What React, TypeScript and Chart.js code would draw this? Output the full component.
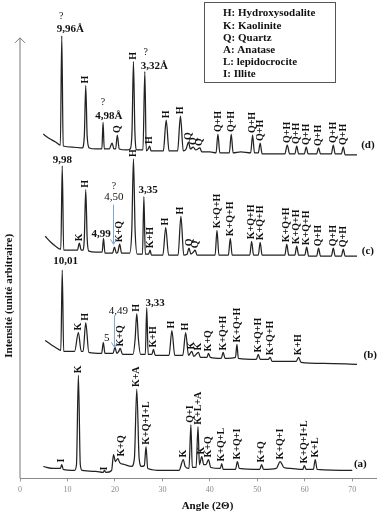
import React, { useEffect, useRef } from "react";
import { Chart, registerables } from "chart.js";

Chart.register(...registerables);

// ---- Data (angle 2θ in degrees, intensity in arbitrary units, traces stacked) ----
const angleTicks = [0, 10, 20, 30, 40, 50, 60, 70];

const traceD: [number, number][] = [
  [4.9, 347], [6, 343], [7.5, 339], [8.5, 336], [8.8, 446], [9.1, 335], [11, 334], [13.1, 333], [13.55, 345], [13.85, 396], [14.15, 345], [14.6, 333],
  [16, 332], [17.25, 332], [17.5, 359], [17.75, 332], [18.8, 332], [19.4, 338], [19.8, 332], [20.15, 332], [20.5, 346], [20.9, 332],
  [22.5, 331], [23.2, 332], [23.6, 350], [23.9, 420], [24.2, 350], [24.6, 331], [25.9, 331], [26.3, 410], [26.6, 330], [27.0, 332], [27.3, 335], [27.6, 330],
  [30.2, 330], [30.8, 361], [31.4, 330], [33.2, 330], [33.8, 365], [34.4, 330], [35.0, 332], [35.5, 339], [35.9, 332], [36.5, 334],
  [37.0, 331], [37.9, 333], [38.3, 329], [40, 329], [41.3, 328], [41.7, 347], [42.1, 328], [44.1, 328], [44.5, 347], [44.9, 328],
  [46.5, 329], [48.6, 328], [49.0, 346], [49.4, 328], [50.2, 328], [50.6, 338], [51.0, 327], [53, 327], [55.8, 327], [56.3, 336],
  [56.8, 327], [57.9, 327], [58.3, 335], [58.7, 327], [59.9, 327], [60.3, 334], [60.7, 327], [62.5, 327], [62.9, 333], [63.3, 327],
  [65.6, 327], [66.0, 336], [66.4, 327], [67.7, 327], [68.1, 334], [68.5, 326], [71, 326],
];

const traceC: [number, number][] = [
  [5.3, 244], [6.5, 238], [7.5, 234], [8.6, 231], [8.9, 315], [9.2, 230], [11, 230], [12.1, 230], [12.5, 237], [12.9, 230],
  [13.2, 230], [13.55, 242], [13.85, 291], [14.15, 242], [14.5, 229], [16, 228], [17.3, 228], [17.6, 242], [17.9, 227], [19.5, 227], [19.9, 233], [20.3, 227],
  [20.6, 228], [21.0, 236], [21.4, 227], [23.1, 227], [23.55, 250], [23.9, 322], [24.25, 250], [24.7, 226], [25.8, 226], [26.1, 284], [26.4, 226], [27.1, 226],
  [27.4, 230], [27.7, 225], [30.1, 225], [30.7, 253], [31.3, 225], [33.3, 225], [33.9, 264], [34.5, 225], [35.2, 226], [35.6, 232],
  [36.0, 226], [36.5, 228], [36.9, 230], [37.3, 225], [41.1, 225], [41.5, 250], [41.9, 225], [43.9, 225], [44.3, 242], [44.7, 225],
  [48.4, 225], [48.8, 239], [49.2, 225], [50.2, 225], [50.6, 238], [51, 225], [55.8, 225], [56.2, 236], [56.6, 225], [57.9, 225],
  [58.3, 234], [58.7, 225], [60, 225], [60.4, 233], [60.8, 224], [62.5, 224], [62.9, 232], [63.3, 224], [65.6, 224], [66.0, 232],
  [66.4, 224], [67.7, 224], [68.1, 231], [68.5, 224], [71, 224],
];

const traceB: [number, number][] = [
  [5.3, 139], [6.5, 135], [7.5, 132], [8.6, 129], [8.9, 210], [9.2, 128], [11.5, 128], [12.3, 147], [12.9, 128], [13.3, 128],
  [13.85, 157], [14.5, 127], [17.2, 126], [17.55, 137], [17.9, 126], [19.6, 126], [20.0, 132], [20.4, 126], [20.8, 128], [21.1, 131],
  [21.6, 125], [23.8, 125], [24.25, 140], [24.6, 166], [24.95, 140], [25.4, 125], [26.4, 125], [26.7, 172], [27.0, 125], [27.8, 125], [28.1, 130], [28.5, 124],
  [31.4, 124], [32.0, 149], [32.6, 124], [34.3, 124], [34.9, 147], [35.5, 124], [36.2, 128], [36.6, 123], [37.6, 127], [38.0, 122],
  [39.4, 122], [39.7, 126], [40.1, 122], [42.4, 121], [42.8, 127], [43.2, 121], [45.4, 122], [45.7, 135], [46.0, 121], [49.8, 120],
  [50.2, 125], [50.6, 120], [52.3, 120], [52.7, 122], [53.1, 118], [58.2, 118], [58.7, 122], [59.2, 117], [64, 116], [71, 115],
];

const traceA: [number, number][] = [
  [4.9, 12], [7, 10], [8.5, 10], [8.8, 14], [9.1, 9], [11.5, 8], [11.9, 14], [12.3, 104], [12.7, 14], [13.1, 8],
  [16, 7], [17.5, 6], [17.8, 8], [18.1, 6], [19.3, 8], [19.7, 24], [20.1, 17], [20.6, 20], [21, 16], [22, 14],
  [23.5, 12], [24.1, 20], [24.6, 90], [25.1, 20], [25.6, 12], [26.2, 13], [26.55, 32], [26.9, 10], [30, 8], [33.5, 8],
  [34.4, 19], [34.8, 12], [35.6, 10], [36.0, 54], [36.3, 11], [37.1, 11], [37.5, 52], [37.8, 14], [38.3, 22], [38.7, 14],
  [39.2, 14], [39.7, 19], [40.2, 11], [42.2, 10], [42.5, 15], [42.8, 9], [45.4, 9], [45.8, 17], [46.2, 10], [50.5, 9],
  [50.9, 14], [51.3, 9], [54, 10], [54.8, 17], [55.6, 11], [57, 10], [59.6, 9], [59.9, 13], [60.3, 9], [61.8, 9],
  [62.2, 19], [62.6, 9], [70, 8],
];

// Phase labels (rotated): [text, angle, intensity at label start]
const phaseLabels: [string, number, number][] = [
  // (d)
  ["H", 13.85, 398], ["Q", 20.5, 348], ["H", 23.9, 422], ["H", 27.3, 337], ["H", 30.8, 363], ["H", 33.8, 367],
  ["Q", 35.5, 341], ["Q", 36.5, 336], ["Q", 37.9, 335],
  ["Q+H", 41.7, 349], ["Q+H", 44.5, 349], ["Q+H", 49.0, 348], ["Q+H", 50.6, 340], ["Q+H", 56.3, 338],
  ["Q+H", 58.3, 337], ["Q+H", 60.3, 336], ["Q+H", 62.9, 335], ["Q+H", 66.0, 338], ["Q+H", 68.1, 336],
  // (c)
  ["K", 12.5, 239], ["H", 13.85, 293], ["K+Q", 21.0, 238], ["H", 23.9, 324], ["K+H", 27.4, 232], ["H", 30.7, 255],
  ["H", 33.9, 266], ["Q", 35.6, 234], ["Q", 36.9, 232],
  ["K+Q+H", 41.5, 252], ["K+Q+H", 44.3, 244], ["K+Q+H", 48.8, 241], ["K+Q+H", 50.6, 240], ["K+Q+H", 56.2, 238],
  ["K+Q+H", 58.3, 236], ["K+Q+H", 60.4, 235], ["Q+H", 62.9, 234], ["Q+H", 66.0, 234], ["Q+H", 68.1, 233],
  // (b)
  ["K", 12.3, 149], ["H", 13.85, 159], ["K+Q", 21.1, 133], ["H", 24.6, 168], ["K+H", 28.1, 132], ["H", 32.0, 151],
  ["H", 34.9, 149], ["K", 36.2, 130], ["K", 37.6, 129], ["K+Q", 39.7, 128],
  ["K+Q+H", 42.8, 129], ["K+Q+H", 45.7, 137], ["K+Q+H", 50.2, 127], ["K+Q+H", 52.7, 124], ["K+H", 58.7, 124],
  // (a)
  ["I", 8.8, 16], ["K", 12.3, 106], ["I", 17.8, 8], ["K+Q", 21.4, 22], ["K+A", 24.6, 92], ["K+Q+I+L", 26.55, 34],
  ["K", 34.4, 21], ["Q+I", 36.0, 56], ["K+L+A", 37.5, 54], ["K", 38.3, 24], ["K+Q", 39.7, 21], ["K+Q+L", 42.5, 17],
  ["K+Q+I", 45.8, 19], ["K+Q", 50.9, 16], ["K+Q+I", 54.8, 19], ["K+Q+I+L", 59.9, 15], ["K+L", 62.2, 21],
];

// d-spacing annotations (horizontal): [text, angle, intensity, bold]
const spacingLabels: [string, number, number, boolean][] = [
  ["?", 8.7, 466, false], ["9,96Å", 10.6, 453, true],
  ["?", 17.5, 379, false], ["4,98Å", 18.7, 365, true],
  ["?", 26.5, 429, false], ["3,32Å", 28.3, 415, true],
  ["9,98", 8.95, 321, true], ["4,99", 17.1, 246, true], ["?", 19.8, 294, false], ["4,50", 19.8, 283, false],
  ["3,35", 27.0, 291, true],
  ["10,01", 9.6, 219, true], ["5", 18.25, 141, false], ["4,49", 20.75, 169, false], ["3,33", 28.45, 177, true],
];

// Arrows: [angle, from intensity, to intensity]
const arrows: [number, number, number][] = [
  [19.7, 276, 236],
  [19.9, 164, 132],
];

// Trace tags: [text, angle, intensity]
const traceTags: [string, number, number][] = [
  ["(d)", 73.3, 336], ["(c)", 73.3, 229], ["(b)", 73.8, 124], ["(a)", 71.7, 14],
];

const legendLines = [
  "H: Hydroxysodalite",
  "K: Kaolinite",
  "Q: Quartz",
  "A: Anatase",
  "L: lepidocrocite",
  "I: Illite",
];

const axisTop = 444;
const SERIF = '"Liberation Serif", "Times New Roman", serif';

const annotate = {
  id: "annotate",
  afterDatasetsDraw(chart: any) {
    const { ctx, scales } = chart;
    const xs = scales.x;
    const ys = scales.y;
    const px = (v: number) => xs.getPixelForValue(v);
    const py = (v: number) => ys.getPixelForValue(v);
    ctx.save();

    // y axis with arrow
    const x0 = px(0);
    ctx.strokeStyle = "#777";
    ctx.lineWidth = 1;
    ctx.beginPath();
    ctx.moveTo(x0, py(0));
    ctx.lineTo(x0, py(axisTop));
    ctx.moveTo(x0 - 5, py(axisTop) + 5);
    ctx.lineTo(x0, py(axisTop));
    ctx.lineTo(x0 + 5, py(axisTop) + 5);
    ctx.stroke();

    // y title
    ctx.save();
    ctx.translate(9, py(184));
    ctx.rotate(-Math.PI / 2);
    ctx.fillStyle = "#111";
    ctx.font = `bold 11px ${SERIF}`;
    ctx.textAlign = "center";
    ctx.textBaseline = "middle";
    ctx.fillText("Intensité (unité arbitraire)", 0, 0);
    ctx.restore();

    // x title
    ctx.fillStyle = "#111";
    ctx.font = `bold 11px ${SERIF}`;
    ctx.textAlign = "center";
    ctx.textBaseline = "middle";
    ctx.fillText("Angle (2Θ)", px(39.5), 506);

    // phase labels
    ctx.font = `bold 10px ${SERIF}`;
    ctx.fillStyle = "#111";
    for (const [t, a, v] of phaseLabels) {
      ctx.save();
      ctx.translate(px(a), py(v));
      ctx.rotate(-Math.PI / 2);
      ctx.textAlign = "left";
      ctx.textBaseline = "middle";
      ctx.fillText(t, 0, 0);
      ctx.restore();
    }

    // spacing labels
    for (const [t, a, v, b] of spacingLabels) {
      ctx.font = `${b ? "bold " : ""}${t === "?" ? 10 : 11}px ${SERIF}`;
      ctx.textAlign = "center";
      ctx.textBaseline = "middle";
      ctx.fillText(t, px(a), py(v));
    }

    // arrows
    ctx.strokeStyle = "#7ea6cf";
    ctx.lineWidth = 1;
    for (const [a, v1, v2] of arrows) {
      const x = px(a);
      const y1 = py(v1);
      const y2 = py(v2);
      ctx.beginPath();
      ctx.moveTo(x, y1);
      ctx.lineTo(x, y2);
      ctx.moveTo(x - 3, y2 - 5);
      ctx.lineTo(x, y2);
      ctx.lineTo(x + 3, y2 - 5);
      ctx.stroke();
    }

    // trace tags
    ctx.fillStyle = "#111";
    ctx.font = `bold 11px ${SERIF}`;
    for (const [t, a, v] of traceTags) {
      ctx.textAlign = "center";
      ctx.textBaseline = "middle";
      ctx.fillText(t, px(a), py(v));
    }

    // legend box
    ctx.fillStyle = "#fff";
    ctx.fillRect(204, 2, 131, 80);
    ctx.strokeStyle = "#555";
    ctx.lineWidth = 1;
    ctx.strokeRect(204.5, 2.5, 131, 80);
    ctx.fillStyle = "#111";
    ctx.font = `bold 11px ${SERIF}`;
    ctx.textAlign = "left";
    ctx.textBaseline = "middle";
    legendLines.forEach((l, i) => ctx.fillText(l, 223, 13.5 + i * 12.2));

    ctx.restore();
  },
};

export default function App() {
  const ref = useRef<HTMLCanvasElement | null>(null);
  useEffect(() => {
    if (!ref.current) return;
    const mk = (d: [number, number][]) => ({
      data: d.map(([x, y]) => ({ x, y })),
      borderColor: "#222",
      borderWidth: 1.25,
      pointRadius: 0,
      cubicInterpolationMode: "monotone" as const,
      fill: false,
    });
    const chart = new Chart(ref.current, {
      type: "line",
      data: { datasets: [mk(traceD), mk(traceC), mk(traceB), mk(traceA)] },
      options: {
        animation: false,
        responsive: true,
        maintainAspectRatio: false,
        layout: { padding: { left: 20, right: 5, top: 20, bottom: 13 } },
        plugins: { legend: { display: false }, tooltip: { enabled: false } },
        scales: {
          x: {
            type: "linear",
            min: 0,
            max: 75,
            afterBuildTicks: (s: any) => {
              s.ticks = angleTicks.map((v) => ({ value: v }));
            },
            ticks: {
              includeBounds: false,
              color: "#8a8a8a",
              font: { size: 8, family: SERIF },
              padding: 4,
              maxRotation: 0,
            },
            grid: { drawOnChartArea: false, drawTicks: true, tickLength: 3, color: "#999" },
            border: { display: true, color: "#888" },
          },
          y: { display: false, min: 0, max: 462 },
        },
      },
      plugins: [annotate],
    });
    return () => chart.destroy();
  }, []);
  return (
    <div style={{ position: "absolute", left: 0, top: 0, width: 381, height: 512, background: "#fff" }}>
      <canvas ref={ref} />
    </div>
  );
}
